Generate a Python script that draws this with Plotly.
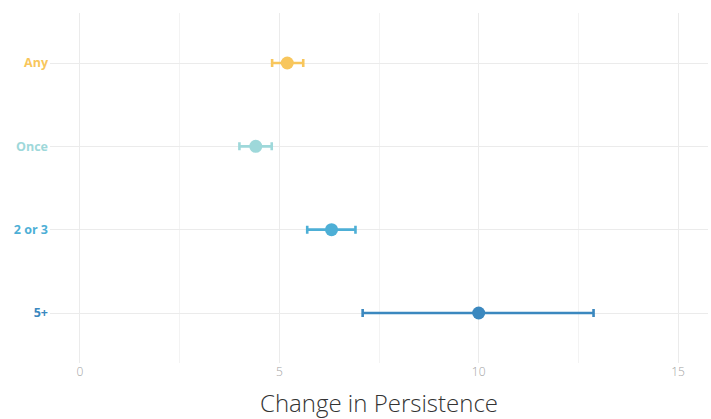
import plotly.graph_objects as go

# Estimates of change in persistence, with confidence intervals
groups = ["Any", "Once", "2 or 3", "5+"]
estimate = [5.2, 4.41, 6.31, 10.0]
lower = [4.82, 4.0, 5.7, 7.09]
upper = [5.6, 4.81, 6.91, 12.88]
colors = ["#F8C65C", "#9ED8DA", "#4DAFD6", "#3B88BF"]
x_ticks = [0, 5, 10, 15]

fig = go.Figure()
for g, est, lo, hi, c in zip(groups, estimate, lower, upper, colors):
    fig.add_trace(go.Scatter(
        x=[est], y=[g], mode="markers",
        marker=dict(size=13, color=c),
        error_x=dict(type="data", symmetric=False,
                     array=[hi - est], arrayminus=[est - lo],
                     color=c, thickness=2.6, width=4),
        showlegend=False,
    ))

tick_text = [f'<span style="color:{c}"><b>{g}</b></span>' for g, c in zip(groups, colors)]

fig.update_layout(
    width=711, height=419,
    margin=dict(l=50, r=3, t=13, b=56),
    plot_bgcolor="white", paper_bgcolor="white",
    font=dict(family="Open Sans, sans-serif"),
    xaxis=dict(
        range=[-0.75, 15.75], tickvals=x_ticks, ticktext=[str(v) for v in x_ticks],
        showgrid=True, gridcolor="#EBEBEB", gridwidth=1,
        minor=dict(tickvals=[2.5, 7.5, 12.5], showgrid=True, gridcolor="#F3F3F3", gridwidth=1),
        zeroline=False, showline=False, ticks="",
        tickfont=dict(size=12, color="#A3A3A3", weight=300),
        title=dict(text="Change in Persistence", standoff=18,
                   font=dict(size=24, color="#333333", weight=300)),
    ),
    yaxis=dict(
        type="category", categoryorder="array", categoryarray=groups,
        tickvals=groups, ticktext=tick_text,
        range=[3.6, -0.6],
        showgrid=True, gridcolor="#EBEBEB", gridwidth=1,
        zeroline=False, showline=False, ticks="", ticklabelstandoff=1,
        tickfont=dict(size=12.5),
    ),
)

fig.write_html("out.html")
